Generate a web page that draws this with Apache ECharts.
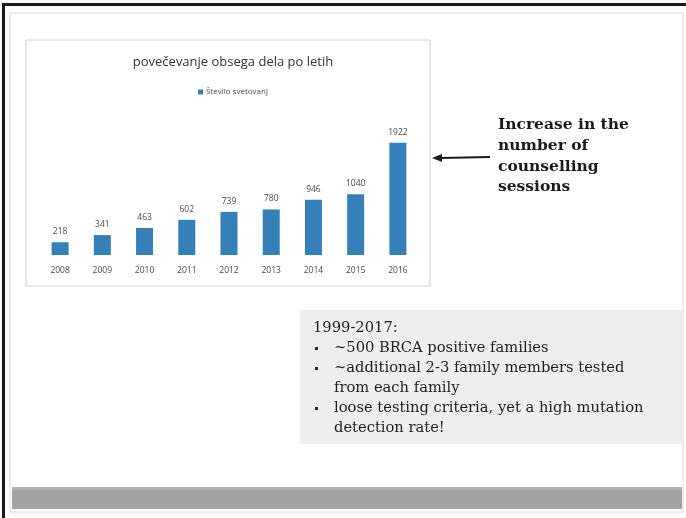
<!DOCTYPE html>
<html>
<head>
<meta charset="utf-8">
<script src="https://cdn.jsdelivr.net/npm/echarts@6/dist/echarts.min.js"></script>
<style>
  html, body { margin: 0; padding: 0; background: #ffffff; }
  #chart { width: 686px; height: 518px; }
</style>
</head>
<body>
<div id="chart"></div>
<script>
// Yearly counselling sessions
const years = ['2008', '2009', '2010', '2011', '2012', '2013', '2014', '2015', '2016'];
const sessions = [218, 341, 463, 602, 739, 780, 946, 1040, 1922];
const seriesName = 'Število svetovanj';
const chartTitle = 'povečevanje obsega dela po letih';

const noteLines = ['Increase in the', 'number of', 'counselling', 'sessions'];
const boxHeading = '1999-2017:';
const bulletItems = [
  ['~500 BRCA positive families'],
  ['~additional 2-3 family members tested', 'from each family'],
  ['loose testing criteria, yet a high mutation', 'detection rate!']
];

const chart = echarts.init(document.getElementById('chart'), null, { renderer: 'canvas' });

const serif = '"DejaVu Serif", serif';
const graphics = [];

// slide frame
graphics.push({ type: 'rect', z: -10, shape: { x: 10, y: 13, width: 673, height: 499 },
  style: { fill: '#ffffff', stroke: '#d8d8d8', lineWidth: 1 } });
graphics.push({ type: 'rect', z: -9, shape: { x: 2, y: 3, width: 684, height: 3 }, style: { fill: '#1a1a1a' } });
graphics.push({ type: 'rect', z: -9, shape: { x: 2, y: 3, width: 3, height: 515 }, style: { fill: '#1a1a1a' } });
// chart panel
graphics.push({ type: 'rect', z: -8, shape: { x: 26, y: 40, width: 404, height: 246 },
  style: { fill: '#ffffff', stroke: '#d2d2d2', lineWidth: 1 } });
// footer bar
graphics.push({ type: 'rect', z: -8, shape: { x: 12, y: 487, width: 670, height: 22 },
  style: { fill: '#a2a2a0' } });
graphics.push({ type: 'rect', z: -7, shape: { x: 12, y: 487, width: 670, height: 3 },
  style: { fill: '#b4b4b2' } });

// arrow
graphics.push({ type: 'polyline', shape: { points: [[490, 157], [440, 158]] },
  style: { stroke: '#1a1a1a', lineWidth: 2 } });
graphics.push({ type: 'polygon', shape: { points: [[432, 158], [442, 154], [442, 162]] },
  style: { fill: '#1a1a1a' } });

// note text
noteLines.forEach((t, i) => {
  graphics.push({ type: 'text', x: 498, y: 125 + i * 20.8,
    style: { text: t, font: 'bold 15.5px ' + serif, fill: '#1a1a1a', textVerticalAlign: 'middle' } });
});

// summary box
graphics.push({ type: 'rect', z: -8, shape: { x: 300, y: 310, width: 382, height: 134 },
  style: { fill: '#eeeeee' } });
let ly = 328;
graphics.push({ type: 'text', x: 313, y: ly,
  style: { text: boxHeading, font: '14.7px ' + serif, fill: '#1e1e1e', textVerticalAlign: 'middle' } });
bulletItems.forEach(item => {
  item.forEach((t, j) => {
    ly += 20;
    if (j === 0) {
      graphics.push({ type: 'rect', shape: { x: 315, y: ly - 1, width: 3, height: 3 }, style: { fill: '#2a2a2a' } });
    }
    graphics.push({ type: 'text', x: 334, y: ly,
      style: { text: t, font: '14.7px ' + serif, fill: '#1e1e1e', textVerticalAlign: 'middle' } });
  });
});

chart.setOption({
  animation: false,
  title: {
    text: chartTitle,
    left: 228, top: 51, textAlign: 'center',
    textStyle: { fontFamily: '"Open Sans", sans-serif', fontSize: 13, fontWeight: 500, color: '#333333' }
  },
  legend: {
    data: [seriesName],
    left: 193, top: 83,
    itemWidth: 5, itemHeight: 5, itemGap: 3,
    icon: 'rect',
    textStyle: { fontSize: 8, color: '#4a4a4a', fontFamily: '"Open Sans", sans-serif', padding: [0, 0, 0, -2] }
  },
  grid: { left: 39, right: 267, top: 109, bottom: 263, containLabel: false },
  xAxis: {
    type: 'category',
    data: years,
    axisLine: { show: false },
    axisTick: { show: false },
    axisLabel: { color: '#4a4a4a', fontSize: 8.5, margin: 11, fontFamily: '"Open Sans", sans-serif' }
  },
  yAxis: {
    type: 'value', min: 0, max: 2500,
    show: false,
    splitLine: { show: false }
  },
  series: [{
    name: seriesName,
    type: 'bar',
    data: sessions,
    barWidth: 17,
    itemStyle: { color: '#3580b8' },
    label: {
      show: true, position: 'top', distance: 6,
      color: '#4a4a4a', fontSize: 8.5, fontFamily: '"Open Sans", sans-serif'
    }
  }],
  graphic: graphics
});
</script>
</body>
</html>
